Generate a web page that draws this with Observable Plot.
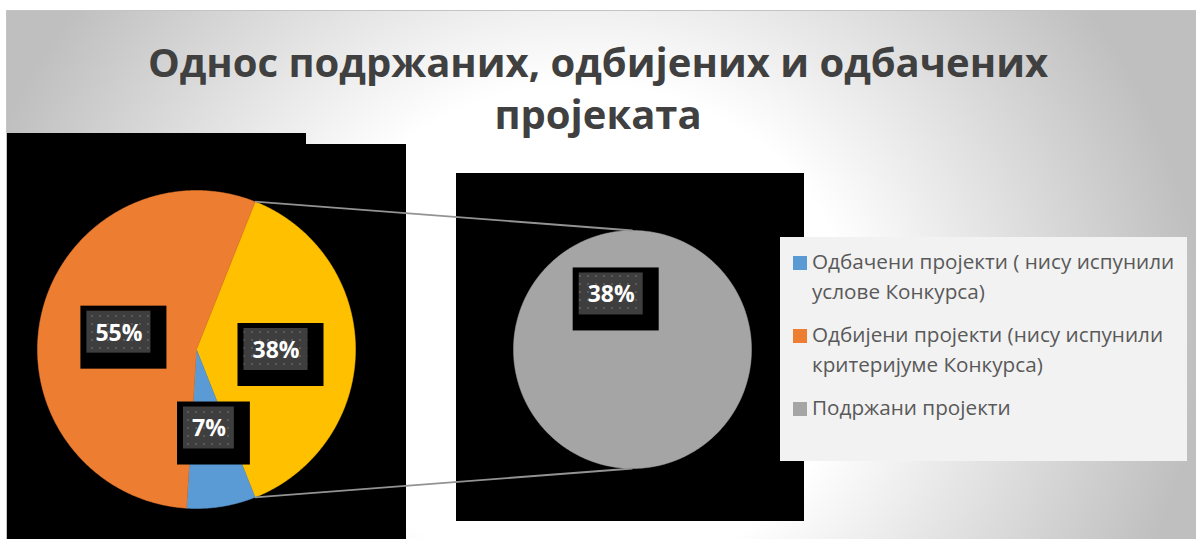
<!DOCTYPE html>
<html><head><meta charset="utf-8">
<script src="https://cdn.jsdelivr.net/npm/d3@7"></script>
<script src="https://cdn.jsdelivr.net/npm/@observablehq/plot@0.6"></script>
<style>
body{margin:0;background:#fff;}
#wrap{position:relative;width:1196px;height:539px;overflow:hidden;font-family:"Open Sans",sans-serif;}
#bg{position:absolute;left:6px;top:10px;width:1190px;height:529px;box-sizing:border-box;border-left:1px solid #c4c4c4;border-top:1px solid #c4c4c4;
 background:radial-gradient(ellipse 620px 560px at 574px 320px,#ffffff 44%,#bfbfbf 100%);}
.blk{position:absolute;background:#000;}
#title{position:absolute;left:0;top:36px;width:1196px;text-align:center;font-weight:700;font-size:40px;line-height:52px;color:#404040;}
#chart{position:absolute;left:0;top:0;}
#legend{position:absolute;left:780px;top:237px;width:407px;height:224px;background:#f2f2f2;}
.item{position:absolute;left:0;width:407px;}
.sw{position:absolute;left:13px;top:10px;width:14px;height:14px;}
.lt{position:absolute;left:32px;top:0;width:374px;font-size:20.7px;line-height:30px;color:#595959;}
</style></head>
<body>
<div id="wrap">
  <div id="bg"></div>
  <div class="blk" style="left:7px;top:133px;width:299px;height:406px"></div>
  <div class="blk" style="left:7px;top:144px;width:399px;height:395px"></div>
  <div class="blk" style="left:456px;top:173px;width:348px;height:348px"></div>
  <div id="title"></div>
  <div id="chart"></div>
  <div id="legend"></div>
</div>
<script>
// ---- data ----
const categories = [
  "Одбачени пројекти ( нису испунили услове Конкурса)",
  "Одбијени пројекти (нису испунили критеријуме Конкурса)",
  "Подржани пројекти"
];
const values = [7, 55, 38];               // percent
const colors = ["#5B9BD5", "#ED7D31", "#A5A5A5"];
const otherColor = "#FFC000";
const secondaryIdx = [2];                 // categories shown in the second pie
const titleLines = ["Однос подржаних, одбијених и одбачених", "пројеката"];

// ---- layout ----
const W = 1196, H = 539;
const P1 = {cx: 196, cy: 349, r: 159};
const P2 = {cx: 632, cy: 349, r: 119};
const secondLabelAngle = -21;             // deg, label placement in second pie

document.getElementById("title").innerHTML = titleLines.join("<br>");

const total = d3.sum(values);
const otherVal = d3.sum(secondaryIdx, i => values[i]);
const primary = [{value: otherVal, color: otherColor}]
  .concat(values.map((v, i) => ({value: v, color: colors[i], i})).filter(d => !secondaryIdx.includes(d.i)));

const rad = a => a * Math.PI / 180;
const pt = (P, a, r) => ({x: P.cx + r * Math.sin(rad(a)), y: P.cy - r * Math.cos(rad(a))});

// primary slices, "other" centred at 90deg (east)
let a0 = 90 - otherVal / total * 360 / 2;
primary.forEach(d => { d.a0 = a0; d.a1 = a0 + d.value / total * 360; a0 = d.a1; });

function slicePoly(P, s0, s1) {
  const n = Math.max(2, Math.ceil((s1 - s0) / 0.5));
  const pts = [];
  if (s1 - s0 < 359.99) pts.push({x: P.cx, y: P.cy});
  for (let k = 0; k <= n; k++) pts.push(pt(P, s0 + (s1 - s0) * k / n, P.r));
  return pts;
}

const secTotal = otherVal;
let b0 = 0;
const secondary = secondaryIdx.map(i => {
  const d = {value: values[i], color: colors[i], a0: b0, a1: b0 + values[i] / secTotal * 360};
  b0 = d.a1; return d;
});

const fmt = v => Math.round(v / total * 100) + "%";
const labels = [];
primary.forEach(d => labels.push({...pt(P1, (d.a0 + d.a1) / 2, P1.r * 0.5), text: fmt(d.value)}));
secondary.forEach(d => {
  const mid = (d.a1 - d.a0) >= 359.99 ? secondLabelAngle : (d.a0 + d.a1) / 2;
  labels.push({...pt(P2, mid, P2.r * 0.5), text: fmt(d.value)});
});

const ctx = document.createElement("canvas").getContext("2d");
ctx.font = "bold 23px 'Open Sans'";
labels.forEach(d => { d.w = ctx.measureText(d.text).width + 17; });

const other = primary[0];
const connectors = [
  {...(() => { const p = pt(P1, other.a0, P1.r); return {x1: p.x, y1: p.y}; })(), x2: P2.cx, y2: P2.cy - P2.r},
  {...(() => { const p = pt(P1, other.a1, P1.r); return {x1: p.x, y1: p.y}; })(), x2: P2.cx, y2: P2.cy + P2.r}
];

const marks = [];
primary.forEach(d => marks.push(Plot.line(slicePoly(P1, d.a0, d.a1), {x: "x", y: "y", fill: d.color, stroke: d.color, strokeWidth: 0.5, curve: "linear-closed"})));
secondary.forEach(d => marks.push(Plot.line(slicePoly(P2, d.a0, d.a1), {x: "x", y: "y", fill: d.color, stroke: d.color, strokeWidth: 0.5, curve: "linear-closed"})));
marks.push(Plot.link(connectors, {x1: "x1", y1: "y1", x2: "x2", y2: "y2", stroke: "#939393", strokeWidth: 1.8}));
marks.push(Plot.rect(labels, {x1: d => d.x - d.w / 2 - 6, x2: d => d.x + d.w / 2 + 16, y1: d => d.y - 26, y2: d => d.y + 37, fill: "#000000"}));
marks.push(Plot.rect(labels, {x1: d => d.x - d.w / 2, x2: d => d.x + d.w / 2, y1: d => d.y - 21, y2: d => d.y + 21, fill: "#404041"}));
marks.push(Plot.text(labels, {x: "x", y: "y", text: "text", fill: "white", fontSize: 23, fontWeight: "bold", fontFamily: "Open Sans", dy: 1}));

const svg = Plot.plot({
  width: W, height: H, margin: 0,
  style: {background: "transparent", overflow: "visible"},
  x: {domain: [0, W], range: [0, W], axis: null},
  y: {domain: [0, H], range: [0, H], axis: null},
  marks
});
// dotted pattern for label boxes
const defs = d3.select(svg).insert("defs", ":first-child");
const pat = defs.append("pattern").attr("id", "dots").attr("width", 8).attr("height", 8).attr("patternUnits", "userSpaceOnUse");
pat.append("rect").attr("width", 8).attr("height", 8).attr("fill", "#3e3e3e");
pat.append("rect").attr("x", 3).attr("y", 3).attr("width", 2).attr("height", 2).attr("fill", "#5a5a5a");
d3.select(svg).selectAll("rect").filter(function () { return (this.getAttribute("fill") || "").toLowerCase() === "#404041"; })
  .attr("fill", "url(#dots)");
d3.select(svg).selectAll("g").filter(function () { return (this.getAttribute("fill") || "").toLowerCase() === "#404041"; }).attr("fill", "url(#dots)");
document.getElementById("chart").appendChild(svg);

// legend
const legend = d3.select("#legend");
categories.forEach((c, i) => {
  const it = legend.append("div").attr("class", "item").style("top", (9 + i * 73) + "px");
  it.append("div").attr("class", "sw").style("background", colors[i]);
  it.append("div").attr("class", "lt").text(c);
});
</script>
</body></html>
